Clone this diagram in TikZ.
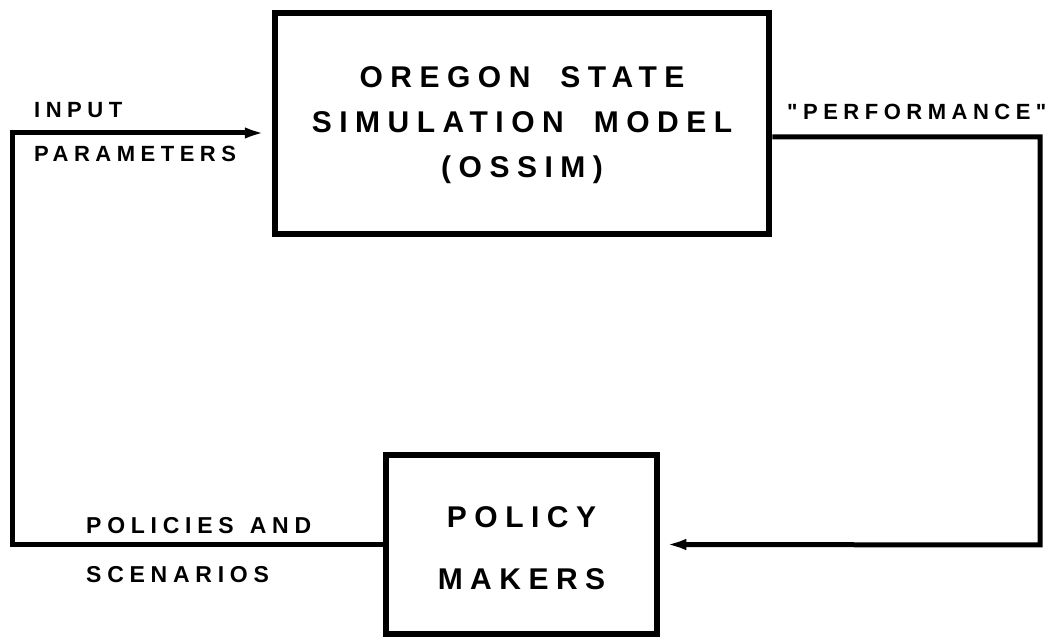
\documentclass[tikz,border=0pt]{standalone}
\usepackage{fontspec}
\newfontfamily\leroy{Liberation Sans}[LetterSpace=25]
\usetikzlibrary{arrows.meta}

\begin{document}
\begin{tikzpicture}[x=1pt,y=1pt,>={Latex[length=24pt,width=11pt]},
  box/.style={draw,line width=6.5pt,inner sep=0pt,align=center,text depth=0pt,
    font=\leroy\bfseries\fontsize{30}{45}\selectfont},
  flow/.style={line width=5pt},
  lbl/.style={anchor=base west,inner sep=0pt,align=left,
    font=\leroy\bfseries\fontsize{22}{44}\selectfont}]
  \useasboundingbox (0,0) rectangle (1047,639);
  % the two boxes
  \node (ossim) [box,minimum width=494pt,minimum height=221pt,text height=109pt]
    at (522,515.5) {OREGON\quad STATE\\SIMULATION\quad MODEL\\(OSSIM)};
  \node (policy) [box,minimum width=271pt,minimum height=179pt,text height=91pt,
    font=\leroy\bfseries\fontsize{30}{62}\selectfont] at (521.5,94.5)
    {POLICY\\MAKERS};
  % labels
  \node (inlbl) [lbl] at (34,477) {INPUT\\PARAMETERS};
  \node (perf) [lbl] at (787,519) {"PERFORMANCE"};
  \node (pollbl) [lbl,font=\leroy\bfseries\fontsize{23}{49}\selectfont] at (86,56)
    {POLICIES\hspace{0.7em}AND\\SCENARIOS};
  % feedback loop
  \coordinate (inbend) at (12,506);
  \coordinate (outbend) at (1040,94);
  \draw[flow,->,shorten >=3pt] (policy.west) -| (inbend) -- ([yshift=-9.5pt]ossim.west);
  \draw[flow,->,shorten >=2pt] ([yshift=-13.5pt]ossim.east) -| (outbend) -- (policy.east);
\end{tikzpicture}
\end{document}
